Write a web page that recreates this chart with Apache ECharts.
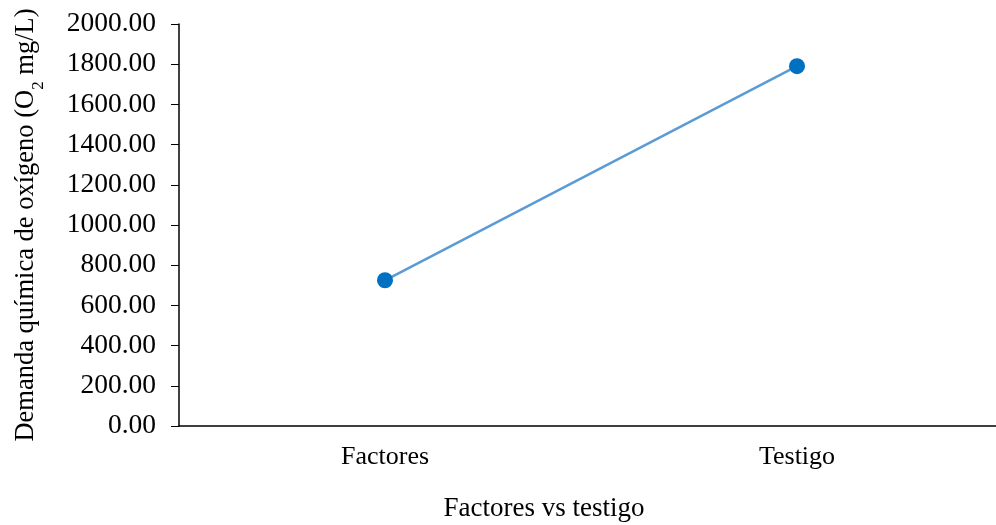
<!DOCTYPE html>
<html>
<head>
<meta charset="utf-8">
<script src="https://cdn.jsdelivr.net/npm/echarts@6/dist/echarts.min.js"></script>
<style>
  html, body { margin: 0; padding: 0; background: #fff; }
  #chart { width: 996px; height: 525px; }
</style>
</head>
<body>
<div id="chart"></div>
<script>
// Chemical oxygen demand: treatments vs control
const categories = ['Factores', 'Testigo'];
const dqoValues = [725, 1790];
const yTicks = { min: 0, max: 2000, interval: 200 };

const serif = '"Liberation Serif", "Times New Roman", serif';
const chart = echarts.init(document.getElementById('chart'));

chart.setOption({
  animation: false,
  grid: {
    left: 179, right: -7, top: 24, bottom: 99,
    containLabel: false,
    outerBoundsMode: 'none'
  },
  xAxis: {
    type: 'category',
    data: categories,
    name: 'Factores vs testigo',
    nameLocation: 'middle',
    nameGap: 69,
    nameTextStyle: { fontFamily: serif, fontSize: 27, color: '#000', padding: [0, 94, 0, 0] },
    axisLine: { lineStyle: { color: '#000', width: 1.5 } },
    axisTick: { show: false },
    axisLabel: { fontFamily: serif, fontSize: 26, color: '#000', margin: 18 }
  },
  yAxis: {
    type: 'value',
    min: yTicks.min,
    max: yTicks.max,
    interval: yTicks.interval,
    name: '{t|Demanda química de oxígeno (O}{s|2}{t| mg/L)}',
    nameLocation: 'middle',
    nameRotate: 90,
    nameGap: 139,
    nameTextStyle: {
      rich: {
        t: { fontFamily: serif, fontSize: 26.5, color: '#000', lineHeight: 32, verticalAlign: 'bottom' },
        s: { fontFamily: serif, fontSize: 17, color: '#000', lineHeight: 32, verticalAlign: 'bottom', padding: [0, 0, -7, 0] }
      }
    },
    axisLine: { show: true, lineStyle: { color: '#000', width: 1.5 } },
    axisTick: { show: true, inside: false, length: 8, lineStyle: { color: '#000', width: 1 } },
    splitLine: { show: false },
    axisLabel: {
      fontFamily: serif, fontSize: 27.5, color: '#000', margin: 23,
      formatter: v => v.toFixed(2)
    }
  },
  series: [{
    type: 'line',
    data: dqoValues,
    symbol: 'circle',
    symbolSize: 16,
    lineStyle: { color: '#5B9BD5', width: 2.5 },
    itemStyle: { color: '#0070C0' }
  }]
});
</script>
</body>
</html>
